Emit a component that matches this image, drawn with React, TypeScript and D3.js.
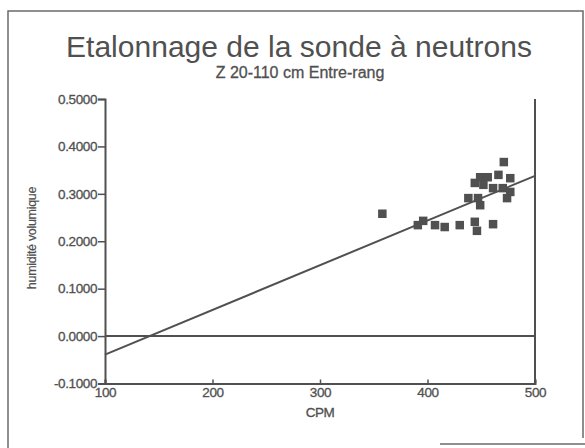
import { useEffect, useRef } from "react";
import * as d3 from "d3";

// CPM readings and volumetric moisture (humidité volumique)
const cpm = [
  358, 391, 396, 407, 416, 430, 444, 446, 461, 438, 447, 449, 444, 449, 456,
  466, 477, 452, 461, 470, 477, 474, 471,
];
const humidite = [
  0.258, 0.234, 0.243, 0.234, 0.23, 0.234, 0.241, 0.222, 0.236, 0.291, 0.291,
  0.276, 0.323, 0.335, 0.335, 0.34, 0.333, 0.319, 0.312, 0.312, 0.304, 0.291,
  0.367,
];

// regression line end points
const fitX = [100, 500];
const fitY = [-0.039, 0.338];

const xTicks = [100, 200, 300, 400, 500];
const yTicks = [-0.1, 0, 0.1, 0.2, 0.3, 0.4, 0.5];

export default function App() {
  const svgRef = useRef<SVGSVGElement | null>(null);

  useEffect(() => {
    if (!svgRef.current) return;
    const width = 585;
    const height = 448;
    const ink = "#505050";
    const font = "'Liberation Sans', Arial, sans-serif";

    const svg = d3.select(svgRef.current).attr("width", width).attr("height", height);
    svg.selectAll("*").remove();

    svg.append("rect").attr("width", width).attr("height", height).attr("fill", "#ffffff");

    // outer frame (scanned page border)
    svg
      .append("path")
      .attr("d", "M8,448 L8,11 L583,11 L583,438")
      .attr("fill", "none")
      .attr("stroke", "#6a6a6a")
      .attr("stroke-width", 1.5);
    svg
      .append("path")
      .attr("d", "M440,444 L585,444")
      .attr("stroke", "#6a6a6a")
      .attr("stroke-width", 1.5);

    const x = d3.scaleLinear().domain([100, 500]).range([105, 535]);
    const y = d3.scaleLinear().domain([-0.1, 0.5]).range([383.5, 99]);

    // titles
    svg
      .append("text")
      .attr("x", 299)
      .attr("y", 57)
      .attr("text-anchor", "middle")
      .attr("font-family", font)
      .attr("font-size", 30)
      .attr("textLength", 466)
      .attr("lengthAdjust", "spacingAndGlyphs")
      .attr("fill", ink)
      .text("Etalonnage de la sonde à neutrons");
    svg
      .append("text")
      .attr("x", 300)
      .attr("y", 78)
      .attr("text-anchor", "middle")
      .attr("font-family", font)
      .attr("font-size", 16)
      .attr("fill", ink)
      .attr("stroke", ink)
      .attr("stroke-width", 0.3)
      .text("Z 20-110 cm Entre-rang");

    // y axis
    const yAxis = d3
      .axisLeft(y)
      .tickValues(yTicks)
      .tickSize(7)
      .tickPadding(1)
      .tickFormat((d: number) => d3.format(".4f")(d).replace("\u2212", "-"));
    const gy = svg.append("g").attr("transform", `translate(${x(100)},0)`).call(yAxis);
    gy.select(".domain").attr("stroke", ink).attr("stroke-width", 2);
    gy.selectAll(".tick line").attr("stroke", ink).attr("stroke-width", 1.5);
    gy.selectAll(".tick text")
      .attr("fill", ink)
      .attr("stroke", ink)
      .attr("stroke-width", 0.3)
      .attr("font-family", font)
      .attr("font-size", 13.5)
      .attr("letter-spacing", -0.4);

    // x axis
    const xAxis = d3
      .axisBottom(x)
      .tickValues(xTicks)
      .tickSize(-4)
      .tickPadding(3)
      .tickFormat((d: number) => `${d}`);
    const gx = svg.append("g").attr("transform", `translate(0,${y(-0.1)})`).call(xAxis);
    gx.select(".domain").attr("stroke", ink).attr("stroke-width", 2);
    gx.selectAll(".tick line").attr("stroke", ink).attr("stroke-width", 1.5);
    gx.selectAll(".tick text")
      .attr("fill", ink)
      .attr("stroke", ink)
      .attr("stroke-width", 0.3)
      .attr("font-family", font)
      .attr("font-size", 13.5)
      .attr("letter-spacing", -0.4)
      .attr("dy", "0.8em");

    // right edge and zero line
    svg
      .append("line")
      .attr("x1", x(500))
      .attr("x2", x(500))
      .attr("y1", y(0.5))
      .attr("y2", y(-0.1))
      .attr("stroke", ink)
      .attr("stroke-width", 2);
    svg
      .append("line")
      .attr("x1", x(100))
      .attr("x2", x(500))
      .attr("y1", y(0))
      .attr("y2", y(0))
      .attr("stroke", ink)
      .attr("stroke-width", 2);

    // axis titles
    svg
      .append("text")
      .attr("x", 320)
      .attr("y", 417)
      .attr("text-anchor", "middle")
      .attr("font-family", font)
      .attr("font-size", 13.5)
      .attr("letter-spacing", -0.5)
      .attr("fill", ink)
      .attr("stroke", ink)
      .attr("stroke-width", 0.3)
      .text("CPM");
    svg
      .append("text")
      .attr("transform", "translate(36,238) rotate(-90)")
      .attr("text-anchor", "middle")
      .attr("font-family", font)
      .attr("font-size", 12.5)
      .attr("letter-spacing", -0.3)
      .attr("fill", ink)
      .attr("stroke", ink)
      .attr("stroke-width", 0.2)
      .text("humidité volumique");

    // regression line
    const line = d3
      .line<number>()
      .x((d: number) => x(d))
      .y((_d: number, i: number) => y(fitY[i]));
    svg
      .append("path")
      .datum(fitX)
      .attr("fill", "none")
      .attr("stroke", ink)
      .attr("stroke-width", 2)
      .attr("d", line);

    // data points (squares)
    const s = 8.5;
    svg
      .selectAll(".pt")
      .data(cpm)
      .join("rect")
      .attr("class", "pt")
      .attr("x", (d: number) => x(d) - s / 2)
      .attr("y", (_d: number, i: number) => y(humidite[i]) - s / 2)
      .attr("width", s)
      .attr("height", s)
      .attr("fill", ink);
  }, []);

  return (
    <div style={{ position: "absolute", left: 0, top: 0 }}>
      <svg ref={svgRef}></svg>
    </div>
  );
}
